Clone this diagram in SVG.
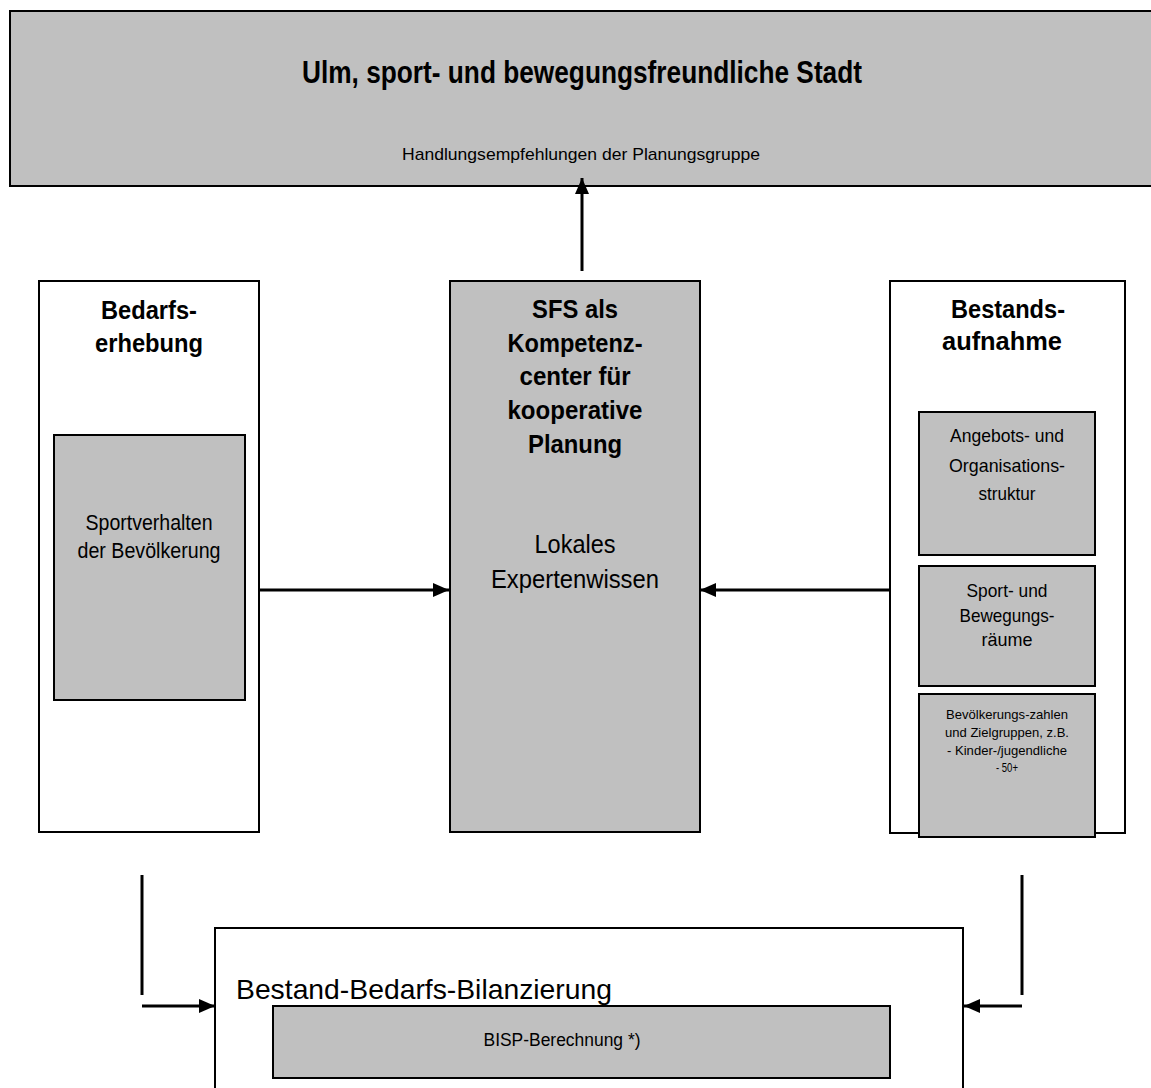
<svg xmlns="http://www.w3.org/2000/svg" width="1151" height="1088" viewBox="0 0 1151 1088">
<style>
  text { font-family: "Liberation Sans", Arial, sans-serif; fill: #000; text-anchor: middle; }
  .b { font-weight: bold; }
  .grey { fill: #c0c0c0; stroke: #000; stroke-width: 2; }
  .white { fill: #fff; stroke: #000; stroke-width: 2; }
  .con { stroke: #000; stroke-width: 3; fill: none; }
</style>
<defs>
  <marker id="ah" markerUnits="userSpaceOnUse" markerWidth="17" markerHeight="14" refX="16" refY="7" orient="auto">
    <path d="M0,0 L16,7 L0,14 z" fill="#000"/>
  </marker>
</defs>
<rect width="1151" height="1088" fill="#fff"/>

<g id="top">
  <rect class="grey" x="10" y="11" width="1150" height="175"/>
  <text class="b" x="582" y="83" font-size="31.5" textLength="560" lengthAdjust="spacingAndGlyphs">Ulm, sport- und bewegungsfreundliche Stadt</text>
  <text x="581" y="160" font-size="17" textLength="358" lengthAdjust="spacingAndGlyphs">Handlungsempfehlungen der Planungsgruppe</text>
</g>

<g id="bedarf">
  <rect class="white" x="39" y="281" width="220" height="551"/>
  <text class="b" x="149" y="319" font-size="25" textLength="96" lengthAdjust="spacingAndGlyphs">Bedarfs-</text>
  <text class="b" x="149" y="352" font-size="25" textLength="108" lengthAdjust="spacingAndGlyphs">erhebung</text>
</g>
<g id="sportverhalten">
  <rect class="grey" x="54" y="435" width="191" height="265"/>
  <text x="149" y="530" font-size="22" textLength="127" lengthAdjust="spacingAndGlyphs">Sportverhalten</text>
  <text x="149" y="558" font-size="22" textLength="143" lengthAdjust="spacingAndGlyphs">der Bevölkerung</text>
</g>

<g id="sfs">
  <rect class="grey" x="450" y="281" width="250" height="551"/>
  <text class="b" x="575" y="318" font-size="26" textLength="86" lengthAdjust="spacingAndGlyphs">SFS als</text>
  <text class="b" x="575" y="352" font-size="26" textLength="135" lengthAdjust="spacingAndGlyphs">Kompetenz-</text>
  <text class="b" x="575" y="385" font-size="26" textLength="111" lengthAdjust="spacingAndGlyphs">center für</text>
  <text class="b" x="575" y="419" font-size="26" textLength="135" lengthAdjust="spacingAndGlyphs">kooperative</text>
  <text class="b" x="575" y="453" font-size="26" textLength="94" lengthAdjust="spacingAndGlyphs">Planung</text>
  <text x="575" y="553" font-size="25.5" textLength="81" lengthAdjust="spacingAndGlyphs">Lokales</text>
  <text x="575" y="588" font-size="25.5" textLength="168" lengthAdjust="spacingAndGlyphs">Expertenwissen</text>
</g>

<g id="bestand">
  <rect class="white" x="890" y="281" width="235" height="552"/>
  <text class="b" x="1008" y="318" font-size="25" textLength="114" lengthAdjust="spacingAndGlyphs">Bestands-</text>
  <text class="b" x="1002" y="350" font-size="25" textLength="120" lengthAdjust="spacingAndGlyphs">aufnahme</text>
</g>
<g id="angebot">
  <rect class="grey" x="919" y="412" width="176" height="143"/>
  <text x="1007" y="442" font-size="18.5" textLength="114" lengthAdjust="spacingAndGlyphs">Angebots- und</text>
  <text x="1007" y="472" font-size="18.5" textLength="116" lengthAdjust="spacingAndGlyphs">Organisations-</text>
  <text x="1007" y="500" font-size="18.5" textLength="57" lengthAdjust="spacingAndGlyphs">struktur</text>
</g>
<g id="raeume">
  <rect class="grey" x="919" y="566" width="176" height="120"/>
  <text x="1007" y="597" font-size="18.5" textLength="81" lengthAdjust="spacingAndGlyphs">Sport- und</text>
  <text x="1007" y="622" font-size="18.5" textLength="95" lengthAdjust="spacingAndGlyphs">Bewegungs-</text>
  <text x="1007" y="646" font-size="18.5" textLength="51" lengthAdjust="spacingAndGlyphs">räume</text>
</g>
<g id="bevoelkerung">
  <rect class="grey" x="919" y="694" width="176" height="143"/>
  <text x="1007" y="719" font-size="13.5" textLength="122" lengthAdjust="spacingAndGlyphs">Bevölkerungs-zahlen</text>
  <text x="1007" y="737" font-size="13.5" textLength="124" lengthAdjust="spacingAndGlyphs">und Zielgruppen, z.B.</text>
  <text x="1007" y="755" font-size="13.5" textLength="120" lengthAdjust="spacingAndGlyphs">- Kinder-/jugendliche</text>
  <text x="1007" y="772" font-size="13.5" textLength="22" lengthAdjust="spacingAndGlyphs">- 50+</text>
</g>

<g id="bilanz">
  <rect class="white" x="215" y="928" width="748" height="180"/>
  <text x="236" y="999" font-size="28" textLength="376" lengthAdjust="spacingAndGlyphs" style="text-anchor:start">Bestand-Bedarfs-Bilanzierung</text>
</g>
<g id="bisp">
  <rect class="grey" x="273" y="1006" width="617" height="72"/>
  <text x="562" y="1046" font-size="18" textLength="157" lengthAdjust="spacingAndGlyphs">BISP-Berechnung *)</text>
</g>

<g id="connectors">
  <line class="con" x1="582" y1="271" x2="582" y2="178" marker-end="url(#ah)"/>
  <line class="con" x1="259" y1="590" x2="449" y2="590" marker-end="url(#ah)"/>
  <line class="con" x1="890" y1="590" x2="700" y2="590" marker-end="url(#ah)"/>
  <line class="con" x1="142" y1="875" x2="142" y2="995"/>
  <line class="con" x1="142" y1="1006" x2="215" y2="1006" marker-end="url(#ah)"/>
  <line class="con" x1="1022" y1="875" x2="1022" y2="995"/>
  <line class="con" x1="1022" y1="1006" x2="964" y2="1006" marker-end="url(#ah)"/>
</g>
</svg>
